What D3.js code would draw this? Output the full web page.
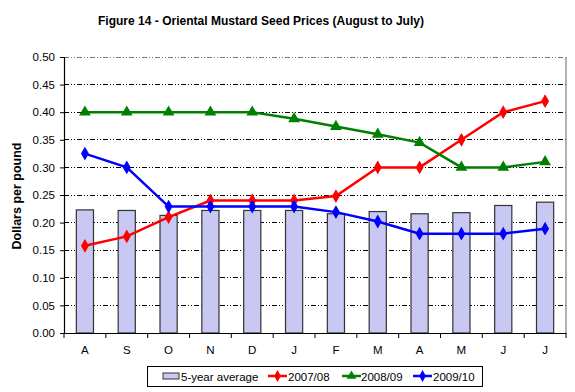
<!DOCTYPE html>
<html><head><meta charset="utf-8">
<script src="https://cdn.jsdelivr.net/npm/d3@7"></script>
<style>body{margin:0;background:#fff}svg{display:block}</style>
</head><body>
<script>
const months = ["A","S","O","N","D","J","F","M","A","M","J","J"];
const avg5yr = [0.223,0.222,0.213,0.222,0.222,0.222,0.216,0.220,0.216,0.218,0.231,0.237];
const s0708 = [0.158,0.175,0.210,0.240,0.240,0.240,0.248,0.300,0.300,0.350,0.400,0.420];
const s0809 = [0.400,0.400,0.400,0.400,0.400,0.388,0.374,0.360,0.345,0.300,0.300,0.310];
const s0910 = [0.325,0.300,0.229,0.229,0.229,0.229,0.219,0.202,0.180,0.180,0.180,0.189];
const yTicks = [0,0.05,0.10,0.15,0.20,0.25,0.30,0.35,0.40,0.45,0.50];
const seriesNames = ["5-year average","2007/08","2008/09","2009/10"];

const W=575,H=392;
const m={l:64,r:9,t:57,b:59};
const svg=d3.select("body").append("svg").attr("width",W).attr("height",H);
const idx=d3.range(months.length);
const x=d3.scaleBand().domain(idx).range([m.l,W-m.r]).paddingInner(0.59).paddingOuter(0.295);
const xb=d3.scaleBand().domain(idx).range([m.l,W-m.r]);
const y=d3.scaleLinear().domain([0,0.5]).range([H-m.b,m.t]);
const font="Arial, 'Liberation Sans', sans-serif";

svg.append("text").attr("x",261).attr("y",25).attr("text-anchor","middle")
 .attr("font-family",font).attr("font-weight","bold").attr("font-size",12.5)
 .attr("textLength",326).attr("lengthAdjust","spacingAndGlyphs")
 .text("Figure 14 - Oriental Mustard Seed Prices (August to July)");

// gridlines
svg.append("g").selectAll("line").data(yTicks.filter(d=>d>0)).join("line")
 .attr("x1",m.l).attr("x2",W-m.r).attr("y1",d=>y(d)).attr("y2",d=>y(d))
 .attr("stroke",(d)=>d===0.5?"#777":"#000").attr("stroke-width",1).attr("stroke-dasharray","5,2,1,2,1,2")
 .attr("shape-rendering","crispEdges");
// right border
svg.append("line").attr("x1",W-m.r).attr("x2",W-m.r).attr("y1",m.t).attr("y2",H-m.b)
 .attr("stroke","#999").attr("stroke-width",1.5);

// bars
svg.append("g").selectAll("rect").data(avg5yr).join("rect")
 .attr("x",(d,i)=>x(i)).attr("width",x.bandwidth())
 .attr("y",d=>y(d)).attr("height",d=>y(0)-y(d))
 .attr("fill","#c8c8f2").attr("stroke","#333").attr("stroke-width",1.2);

// axes
const ya=d3.axisLeft(y).tickValues(yTicks).tickFormat(d3.format(".2f")).tickSize(4).tickPadding(5);
const gy=svg.append("g").attr("transform",`translate(${m.l},0)`).call(ya);
gy.select(".domain").attr("stroke","#000").attr("stroke-width",1.2);
gy.selectAll("text").attr("font-family",font).attr("font-size",11.5).attr("fill","#000");

const xa=d3.axisBottom(xb).tickFormat(i=>months[i]).tickSize(0).tickPadding(13);
const gx=svg.append("g").attr("transform",`translate(0,${y(0)})`).call(xa);
gx.select(".domain").attr("stroke","#000").attr("stroke-width",1.2);
gx.selectAll("text").attr("font-family",font).attr("font-size",11.5).attr("fill","#000");
gx.selectAll(".sep").data(d3.range(months.length+1)).join("line").attr("class","sep")
 .attr("x1",i=>m.l+i*xb.bandwidth()).attr("x2",i=>m.l+i*xb.bandwidth())
 .attr("y1",0).attr("y2",5).attr("stroke","#000");

svg.append("text").attr("transform",`translate(21,196) rotate(-90)`).attr("text-anchor","middle")
 .attr("font-family",font).attr("font-weight","bold").attr("font-size",12.5).text("Dollars per pound");

const cx=i=>xb(i)+xb.bandwidth()/2;
const line=d3.line().x((d,i)=>cx(i)).y(d=>y(d));
const lines=[{v:s0708,c:"#ff0000",sym:d3.symbolDiamond},{v:s0809,c:"#008000",sym:d3.symbolTriangle},{v:s0910,c:"#0000ff",sym:d3.symbolDiamond}];
lines.forEach(s=>{
 svg.append("path").datum(s.v).attr("d",line).attr("fill","none").attr("stroke",s.c).attr("stroke-width",2.5);
 svg.append("g").selectAll("path").data(s.v).join("path")
  .attr("transform",(d,i)=>`translate(${cx(i)},${y(d)})`)
  .attr("d",d3.symbol().type(s.sym).size(s.sym===d3.symbolTriangle?60:55)).attr("fill",s.c);
});

// legend
const lg=svg.append("g");
lg.append("rect").attr("x",147.5).attr("y",366.5).attr("width",335).attr("height",20)
 .attr("fill","#fff").attr("stroke","#000");
lg.append("rect").attr("x",163).attr("y",373).attr("width",16).attr("height",6)
 .attr("fill","#c8c8f2").attr("stroke","#333");
const lx=[181,288,361,433];
const sx=[null,268,342,413];
seriesNames.forEach((n,k)=>{
 lg.append("text").attr("x",lx[k]).attr("y",381).attr("font-family",font).attr("font-size",11.5).text(n);
 if(k>0){
  const s=lines[k-1];
  lg.append("line").attr("x1",sx[k]).attr("x2",sx[k]+19).attr("y1",376).attr("y2",376).attr("stroke",s.c).attr("stroke-width",2.5);
  lg.append("path").attr("transform",`translate(${sx[k]+9.5},376)`).attr("d",d3.symbol().type(s.sym).size(40)).attr("fill",s.c);
 }
});
</script>
</body></html>
